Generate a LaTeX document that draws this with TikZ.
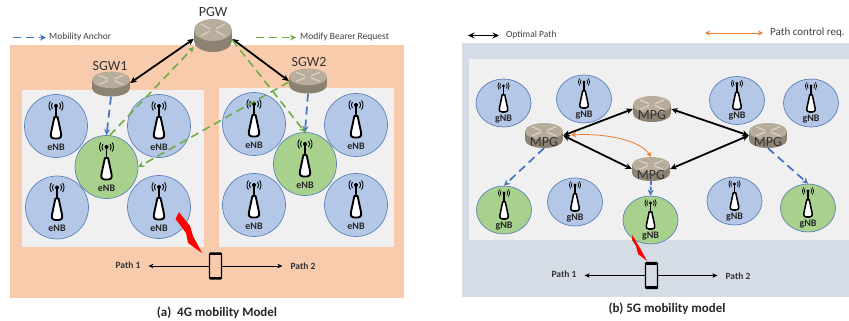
\documentclass[tikz,border=0pt]{standalone}
\usepackage{fontspec}
\setmainfont{Carlito}
\usetikzlibrary{arrows.meta,calc,shapes.geometric}
\definecolor{bgorange}{HTML}{F8CBAD}
\definecolor{bgblue}{HTML}{D6DCE5}
\definecolor{panel}{HTML}{F0F0F0}
\definecolor{cellblue}{HTML}{B4C7E7}
\definecolor{cellgreen}{HTML}{A9D18E}
\definecolor{celledge}{HTML}{5B82B8}
\definecolor{dashblue}{HTML}{4472C4}
\definecolor{dashgreen}{HTML}{70AD47}
\definecolor{ctrlorange}{HTML}{ED7D31}
\definecolor{rbody}{HTML}{8B8272}
\definecolor{rtop}{HTML}{B8AD9C}
\definecolor{rmark}{HTML}{D8D0C4}
\definecolor{txt}{HTML}{404040}
\tikzset{
  x=1pt,y=-1pt,
  enb/.style={circle,draw=celledge,line width=.7pt,minimum size=63pt,inner sep=0pt},
  gnb/.style={ellipse,draw=celledge,line width=.7pt,minimum width=55pt,minimum height=48pt,inner sep=0pt},
  stationtext/.style={font=\fontsize{10}{11}\selectfont\bfseries,text=black!85,inner sep=0pt},
  routerbox/.style={minimum width=38pt,inner sep=0pt,rectangle},
  routertext/.style={font=\fontsize{14}{15}\selectfont,text=black!80,inner sep=0pt},
  legendtext/.style={font=\fontsize{9.5}{10}\selectfont,text=txt,inner sep=0pt,anchor=west},
  pathtext/.style={font=\fontsize{9.5}{10}\selectfont\bfseries,text=black!80,inner sep=8pt},
  captiontext/.style={font=\fontsize{12.9}{14}\selectfont\bfseries,text=black!85,inner sep=0pt},
  optimal/.style={{Stealth[length=6.5pt,width=6pt]}-{Stealth[length=6.5pt,width=6pt]},line width=1.8pt,black},
  anchorflow/.style={-{Stealth[length=6pt,width=6pt]},dash pattern=on 8pt off 5pt,line width=1.7pt,dashblue},
  bearerflow/.style={-{Stealth[length=6pt,width=6pt]},dash pattern=on 8pt off 5pt,line width=1.6pt,dashgreen},
  pathline/.style={-{Stealth[length=5pt,width=4.5pt]},line width=.6pt,black},
  ctrlflow/.style={{Stealth[length=5pt,width=5pt]}-{Stealth[length=5pt,width=5pt]},line width=.8pt,ctrlorange},
  phonebox/.style={draw=black,line width=1.2pt,rounded corners=1pt,minimum width=12pt,minimum height=26pt,inner sep=0pt},
}
% antenna icon: origin = radiating dot
\newcommand{\antennaicon}[3]{%
  \begin{scope}[shift={(#1,#2)},scale=#3]
    \draw[black,line width=#3*1.9pt,fill=white,line join=round]
      (-1.6,11) -- (-5,27) .. controls (-5.8,31.5) and (-4,32.5) .. (-2,32.5) -- (2,32.5)
      .. controls (4,32.5) and (5.8,31.5) .. (5,27) -- (1.6,11) -- cycle;
    \draw[black,line width=#3*1.8pt] (0,0) -- (0,11);
    \fill[black] (0,0) circle[radius=2pt];
    \draw[black,line width=#3*.9pt] (-3.6,-3) .. controls (-5,-1) and (-5,1) .. (-3.6,3);
    \draw[black,line width=#3*.9pt] (3.6,-3) .. controls (5,-1) and (5,1) .. (3.6,3);
    \draw[black,line width=#3*.9pt] (-5.6,-4.5) .. controls (-7.5,-1.5) and (-7.5,1.5) .. (-5.6,4.5);
    \draw[black,line width=#3*.9pt] (5.6,-4.5) .. controls (7.5,-1.5) and (7.5,1.5) .. (5.6,4.5);
  \end{scope}}
% name, x, y, fill
\newcommand{\enbstation}[4]{%
  \node[enb,fill=#4] (#1) at (#2,#3) {};
  \antennaicon{#2}{#3-20}{1}
  \node[stationtext] (#1t) at (#2,#3+21) {eNB};}
\newcommand{\gnbstation}[4]{%
  \node[gnb,fill=#4] (#1) at (#2,#3) {};
  \antennaicon{#2}{#3-17}{.8}
  \node[stationtext] (#1t) at (#2,#3+16) {gNB};}
% name, x, y, height
\newcommand{\routericon}[4]{%
  \pgfmathsetmacro\rry{#4/3}%
  \pgfmathsetmacro\rup{#3-#4/2+\rry}%
  \pgfmathsetmacro\rlo{#3+#4/2-\rry}%
  \fill[rbody] (#2-19,\rup) rectangle (#2+19,\rlo);
  \fill[rbody] (#2,\rlo) ellipse[x radius=19pt,y radius=\rry pt];
  \fill[rtop] (#2,\rup) ellipse[x radius=19pt,y radius=\rry pt];
  \draw[rmark,line width=1.3pt] (#2-12,\rup-\rry*.55) -- (#2-3,\rup-\rry*.1) (#2+12,\rup+\rry*.55) -- (#2+3,\rup+\rry*.1)
     (#2+12,\rup-\rry*.55) -- (#2+3,\rup-\rry*.1) (#2-12,\rup+\rry*.55) -- (#2-3,\rup+\rry*.1);
  \node[routerbox,minimum height=#4 pt] (#1) at (#2,#3) {};}
% name, x, y
\newcommand{\phoneicon}[3]{%
  \node[phonebox] (#1) at (#2,#3) {};
  \fill[black] (#2-6,#3-13) rectangle (#2+6,#3-10.8);
  \fill[black] (#2-6,#3+10.6) rectangle (#2+6,#3+13);}
\begin{document}
\begin{tikzpicture}
\useasboundingbox (0,0) rectangle (849,321);
\fill[white] (0,0) rectangle (849,321);
% ---------- panel (a)
\fill[bgorange] (10,45) rectangle (404,298);
\fill[panel] (22,90) rectangle (204,247);
\fill[panel] (219,88) rectangle (394,247);
\enbstation{ea}{56}{126}{cellblue}
\enbstation{eb}{159}{126}{cellblue}
\enbstation{ec}{57}{207.5}{cellblue}
\enbstation{ed}{159}{207}{cellblue}
\enbstation{ga}{106.5}{167}{cellgreen}
\enbstation{ee}{254}{124}{cellblue}
\enbstation{ef}{356}{125}{cellblue}
\enbstation{eg}{254}{205}{cellblue}
\enbstation{eh}{356}{205}{cellblue}
\enbstation{gb}{305}{164}{cellgreen}
\routericon{pgw}{213}{35.5}{33}
\routericon{sgwa}{111}{84}{25}
\routericon{sgwb}{308}{81}{25}
\node[routertext] (pgwt) at (213,12.5) {PGW};
\node[routertext] (sgwat) at (110,66) {SGW1};
\node[routertext] (sgwbt) at (309,62) {SGW2};
\draw[optimal] (pgw.190) -- (sgwa.3);
\draw[optimal] (pgw.350) -- (sgwb.180);
\draw[anchorflow] (sgwa.south) -- (ga.north);
\draw[anchorflow] (sgwb.south) -- (gb.north);
\draw[bearerflow] (ga.84) -- (pgw.211);
\draw[bearerflow] (sgwb.183) -- (ga.east);
\draw[bearerflow] (pgw.347) -- (gb.north);
% legend (a)
\node[legendtext] (lma) at (49,37) {Mobility Anchor};
\coordinate (lmas) at (13,37.5);
\draw[anchorflow,line width=1.2pt] (lmas) -- ($(lma.west)+(-3,.5)$);
\node[legendtext] (lmb) at (300,37) {Modify Bearer Request};
\coordinate (lmbs) at (256,37.5);
\draw[bearerflow,line width=1.2pt] (lmbs) -- ($(lmb.west)+(-4,.5)$);
% handset (a)
\phoneicon{pha}{215.5}{266}
\node[pathtext] (pa1) at (128,265) {Path 1};
\node[pathtext] (pa2) at (303,266) {Path 2};
\draw[pathline] (pha.west) -- (pa1.east |- pha.west);
\draw[pathline] (pha.east) -- (pa2.west |- pha.east);
\fill[red] (175.5,219) -- (179,212) -- (190,226) -- (193,236) -- (202,253) -- (188,243) -- (186,233) -- cycle;
\node[captiontext] (capa) at (217,313) {(a)\ \ 4G mobility Model};
% ---------- panel (b)
\fill[bgblue] (462,43) rectangle (849,297);
\fill[panel] (469,59) rectangle (849,240);
\gnbstation{na}{503.5}{103}{cellblue}
\gnbstation{nb}{584}{99}{cellblue}
\gnbstation{nc}{737}{100.5}{cellblue}
\gnbstation{nd}{811}{103}{cellblue}
\gnbstation{ne}{504}{210}{cellgreen}
\gnbstation{nf}{575}{202}{cellblue}
\gnbstation{ng}{650.5}{220}{cellgreen}
\gnbstation{nh}{734.5}{201}{cellblue}
\gnbstation{ni}{808}{208}{cellgreen}
\routericon{mt}{652}{109}{26}
\routericon{ml}{544}{135.5}{25}
\routericon{mr}{768}{135.5}{25}
\routericon{mb}{651}{169}{24}
\node[routertext] (mtt) at (652,115.5) {MPG};
\node[routertext] (mlt) at (544,142.5) {MPG};
\node[routertext] (mrt) at (768,142) {MPG};
\node[routertext] (mbt) at (651,175) {MPG};
\draw[optimal] (ml.east) -- (mt.west);
\draw[optimal] (mt.east) -- (mr.west);
\draw[optimal] (ml.east) -- (mb.west);
\draw[optimal] (mr.west) -- (mb.east);
\draw[ctrlflow,shorten <=8pt] (ml.east) .. controls (605,133) and (640,140) .. (mb.north);
\draw[anchorflow] (ml.south) -- (ne.north);
\draw[anchorflow] (mr.south) -- (ni.north);
\draw[anchorflow,dash pattern=on 4pt off 1.5pt] (mb.south) -- (ng.north);
% legend (b)
\node[legendtext] (lo) at (506,35) {Optimal Path};
\coordinate (los) at (468,35.5);
\draw[optimal,line width=1.2pt] (los) -- ($(lo.west)+(-7,.5)$);
\node[legendtext,font=\fontsize{11}{12}\selectfont] (lc) at (770,33) {Path control req.};
\coordinate (lcs) at (705,33);
\draw[ctrlflow] (lcs) -- ($(lc.west)+(-7,0)$);
% handset (b)
\phoneicon{phb}{651.5}{275.5}
\node[pathtext] (pb1) at (564,274) {Path 1};
\node[pathtext] (pb2) at (738,276) {Path 2};
\draw[pathline] (phb.west) -- (pb1.east |- phb.west);
\draw[pathline] (phb.east) -- (pb2.west |- phb.east);
\fill[red] (632.5,235) -- (637,243) -- (640.5,249) -- (647,261) -- (638,254) -- (636,246) -- (632,240) -- cycle;
\node[captiontext] (capb) at (667,309) {(b) 5G mobility model};
\end{tikzpicture}
\end{document}
